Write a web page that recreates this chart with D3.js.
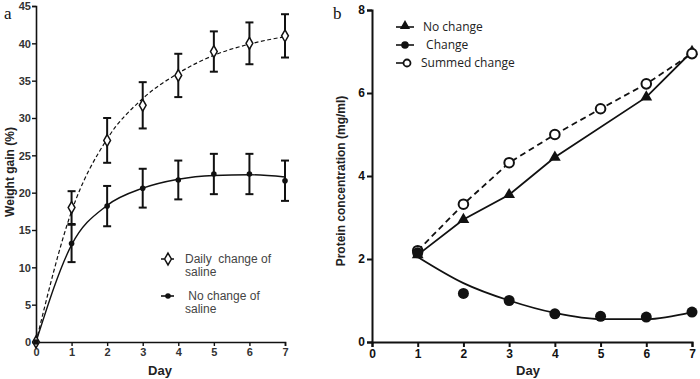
<!DOCTYPE html>
<html><head><meta charset="utf-8">
<script src="https://cdn.jsdelivr.net/npm/d3@7"></script>
<style>body{margin:0;background:#fff}svg{display:block}</style>
</head><body>
<svg id="c" width="700" height="379"></svg>
<script>
// ---- Panel a data ----
const aDays = [0,1,2,3,4,5,6,7];
const aDaily = [0,18.0,27.0,31.7,35.7,38.9,40.0,41.0];
const aDailyErr = [0,2.2,3.0,3.1,2.9,2.7,2.8,2.9];
const aNoChange = [0,13.2,18.2,20.6,21.7,22.5,22.5,21.6];
const aNoChangeErr = [0,2.5,2.7,2.6,2.6,2.7,2.7,2.7];
const aDailyFit = [0,17.5,27.2,32.6,36.0,38.4,39.9,40.9];
const aNoChangeFit = [0,13.0,18.3,20.6,21.8,22.3,22.4,22.1];
const aYTicks = [0,5,10,15,20,25,30,35,40,45];
const aXTicks = [0,1,2,3,4,5,6,7];
// ---- Panel b data ----
const bDays = [1,2,3,4,5,6,7];
const bNoChange = [2.1,2.95,3.55,4.45,null,5.9,7.0];
const bChange = [2.15,1.17,1.0,0.68,0.62,0.6,0.72];
const bChangeFit = [2.05,1.42,1.0,0.7,0.55,0.55,0.72];
const bSummed = [2.2,3.32,4.32,5.0,5.62,6.22,6.95];
const bYTicks = [0,2,4,6,8];
const bXTicks = [0,1,2,3,4,5,6,7];

const svg = d3.select('#c');
const ink = '#111';

// ---------- Panel a ----------
const ax = d3.scaleLinear().domain([0,7]).range([36,285]);
const ay = d3.scaleLinear().domain([0,45]).range([342,6]);
const ga = svg.append('g');
const axA = ga.append('g').attr('transform','translate(0,342)')
  .call(d3.axisBottom(ax).tickValues(aXTicks).tickSize(4).tickPadding(2).tickFormat(d3.format('d')));
const ayA = ga.append('g').attr('transform','translate(36,0)')
  .call(d3.axisLeft(ay).tickValues(aYTicks).tickSize(4).tickPadding(1).tickFormat(d3.format('d')));
[axA,ayA].forEach(g=>{
  g.select('.domain').attr('stroke',ink).attr('stroke-width',1.6);
  g.selectAll('.tick line').attr('stroke',ink).attr('stroke-width',1.4);
  g.selectAll('.tick text').attr('fill','#333').style('font-family','Liberation Sans, Arial, sans-serif').style('font-size','11px').style('font-weight','600');
});
ayA.selectAll('.tick text').attr('dy','0.35em');

const lineA = d3.line().x((d,i)=>ax(aDays[i])).y(d=>ay(d)).curve(d3.curveMonotoneX);
ga.append('path').attr('d',lineA(aDailyFit)).attr('fill','none').attr('stroke',ink).attr('stroke-width',1.2).attr('stroke-dasharray','4,2.5');
ga.append('path').attr('d',lineA(aNoChangeFit)).attr('fill','none').attr('stroke',ink).attr('stroke-width',1.4);

function errBars(g, xs, ys, es, x, y, cap){
  xs.forEach((d,i)=>{
    if(!es[i]) return;
    const cx = x(d), y1 = y(ys[i]+es[i]), y0 = y(ys[i]-es[i]);
    g.append('line').attr('x1',cx).attr('x2',cx).attr('y1',y1).attr('y2',y0).attr('stroke',ink).attr('stroke-width',2);
    g.append('line').attr('x1',cx-cap).attr('x2',cx+cap).attr('y1',y1).attr('y2',y1).attr('stroke',ink).attr('stroke-width',2);
    g.append('line').attr('x1',cx-cap).attr('x2',cx+cap).attr('y1',y0).attr('y2',y0).attr('stroke',ink).attr('stroke-width',2);
  });
}
errBars(ga, aDays, aDaily, aDailyErr, ax, ay, 4);
errBars(ga, aDays, aNoChange, aNoChangeErr, ax, ay, 4);

const diamond = d3.symbol().type(d3.symbolDiamond).size(40);
ga.selectAll('.dm').data(aDaily).enter().append('path')
  .attr('d',diamond).attr('transform',(d,i)=>`translate(${ax(aDays[i])},${ay(d)})`)
  .attr('fill','#fff').attr('stroke',ink).attr('stroke-width',1.5);
ga.selectAll('.nc').data(aNoChange).enter().append('circle')
  .attr('cx',(d,i)=>ax(aDays[i])).attr('cy',d=>ay(d)).attr('r',2.8).attr('fill',ink);

// legend a
const la = ga.append('g').style('font-family','Liberation Sans, Arial, sans-serif').style('font-size','12px').attr('fill','#444');
la.append('line').attr('x1',161).attr('x2',174).attr('y1',259).attr('y2',259).attr('stroke',ink).attr('stroke-width',1.4).attr('stroke-dasharray','3,2');
la.append('path').attr('d',diamond).attr('transform','translate(168,259)').attr('fill','#fff').attr('stroke',ink).attr('stroke-width',1.5);
la.append('text').attr('x',185).attr('y',263).text('Daily  change of').attr('xml:space','preserve');
la.append('text').attr('x',185).attr('y',276).text('saline');
la.append('line').attr('x1',161).attr('x2',174).attr('y1',296).attr('y2',296).attr('stroke',ink).attr('stroke-width',1.6);
la.append('circle').attr('cx',168).attr('cy',296).attr('r',2.8).attr('fill',ink);
la.append('text').attr('x',185).attr('y',300).text(' No change of').attr('xml:space','preserve');
la.append('text').attr('x',185).attr('y',313).text('saline');

// labels a
svg.append('text').attr('x',4).attr('y',19).text('a').style('font-family','Liberation Serif, Times New Roman, serif').style('font-size','17px').attr('fill',ink);
svg.append('text').attr('transform','translate(14,172) rotate(-90)').attr('text-anchor','middle')
  .style('font-family','Liberation Sans, Arial, sans-serif').style('font-size','12px').style('font-weight','600').attr('fill','#222').text('Weight gain (%)');
svg.append('text').attr('x',160).attr('y',375).attr('text-anchor','middle')
  .style('font-family','Liberation Sans, Arial, sans-serif').style('font-size','13px').style('font-weight','600').attr('fill','#222').text('Day');

// ---------- Panel b ----------
const bx = d3.scaleLinear().domain([0,7]).range([372,692]);
const by = d3.scaleLinear().domain([0,8]).range([342,10]);
const gb = svg.append('g');
const axB = gb.append('g').attr('transform','translate(0,342)')
  .call(d3.axisBottom(bx).tickValues(bXTicks).tickSize(5).tickPadding(2).tickFormat(d3.format('d')));
const ayB = gb.append('g').attr('transform','translate(372,0)')
  .call(d3.axisLeft(by).tickValues(bYTicks).tickSize(5).tickPadding(2).tickFormat(d3.format('d')));
[axB,ayB].forEach(g=>{
  g.select('.domain').attr('stroke',ink).attr('stroke-width',2);
  g.selectAll('.tick line').attr('stroke',ink).attr('stroke-width',2);
  g.selectAll('.tick text').attr('fill',ink).style('font-family','Liberation Sans, Arial, sans-serif').style('font-size','12px').style('font-weight','bold');
});

const lineB = d3.line().x(d=>bx(d[0])).y(d=>by(d[1]));
const ncPts = bDays.map((d,i)=>[d,bNoChange[i]]).filter(p=>p[1]!=null);
const smPts = bDays.map((d,i)=>[d,bSummed[i]]);
const chFitPts = bDays.map((d,i)=>[d,bChangeFit[i]]);
gb.append('path').attr('d',lineB(ncPts)).attr('fill','none').attr('stroke',ink).attr('stroke-width',1.8);
gb.append('path').attr('d',lineB(smPts)).attr('fill','none').attr('stroke',ink).attr('stroke-width',1.8).attr('stroke-dasharray','6,4');
gb.append('path').attr('d',lineB.curve(d3.curveMonotoneX)(chFitPts)).attr('fill','none').attr('stroke',ink).attr('stroke-width',1.8);

const tri = d3.symbol().type(d3.symbolTriangle).size(60);
gb.selectAll('.bnc').data(ncPts).enter().append('path')
  .attr('d',tri).attr('transform',d=>`translate(${bx(d[0])},${by(d[1])})`).attr('fill',ink);
gb.selectAll('.bsm').data(smPts).enter().append('circle')
  .attr('cx',d=>bx(d[0])).attr('cy',d=>by(d[1])).attr('r',4.8).attr('fill','#fff').attr('stroke',ink).attr('stroke-width',2);
gb.selectAll('.bch').data(bChange).enter().append('circle')
  .attr('cx',(d,i)=>bx(bDays[i])).attr('cy',d=>by(d)).attr('r',5.5).attr('fill',ink);

// legend b
const lb = gb.append('g').style('font-family','Open Sans, Liberation Sans, Arial, sans-serif').style('font-size','12px').attr('fill','#222');
lb.append('line').attr('x1',396).attr('x2',414).attr('y1',27).attr('y2',27).attr('stroke',ink).attr('stroke-width',1.6);
lb.append('path').attr('d',d3.symbol().type(d3.symbolTriangle).size(45)).attr('transform','translate(405,26)').attr('fill',ink);
lb.append('text').attr('x',423).attr('y',31).text('No change');
lb.append('line').attr('x1',396).attr('x2',414).attr('y1',45).attr('y2',45).attr('stroke',ink).attr('stroke-width',1.6);
lb.append('circle').attr('cx',405).attr('cy',45).attr('r',3.8).attr('fill',ink);
lb.append('text').attr('x',423).attr('y',49).text(' Change').attr('xml:space','preserve');
lb.append('line').attr('x1',396).attr('x2',408).attr('y1',63).attr('y2',63).attr('stroke',ink).attr('stroke-width',1.6);
lb.append('circle').attr('cx',407).attr('cy',63).attr('r',3.5).attr('fill','#fff').attr('stroke',ink).attr('stroke-width',1.8);
lb.append('text').attr('x',421).attr('y',67).text('Summed change');

svg.append('text').attr('x',333).attr('y',19).text('b').style('font-family','Liberation Serif, Times New Roman, serif').style('font-size','17px').attr('fill',ink);
svg.append('text').attr('transform','translate(345,181) rotate(-90)').attr('text-anchor','middle')
  .style('font-family','Liberation Sans, Arial, sans-serif').style('font-size','12px').style('font-weight','bold').attr('fill','#222').text('Protein concentration (mg/ml)');
svg.append('text').attr('x',528).attr('y',375).attr('text-anchor','middle')
  .style('font-family','Liberation Sans, Arial, sans-serif').style('font-size','13px').style('font-weight','bold').attr('fill','#222').text('Day');
</script>
</body></html>
